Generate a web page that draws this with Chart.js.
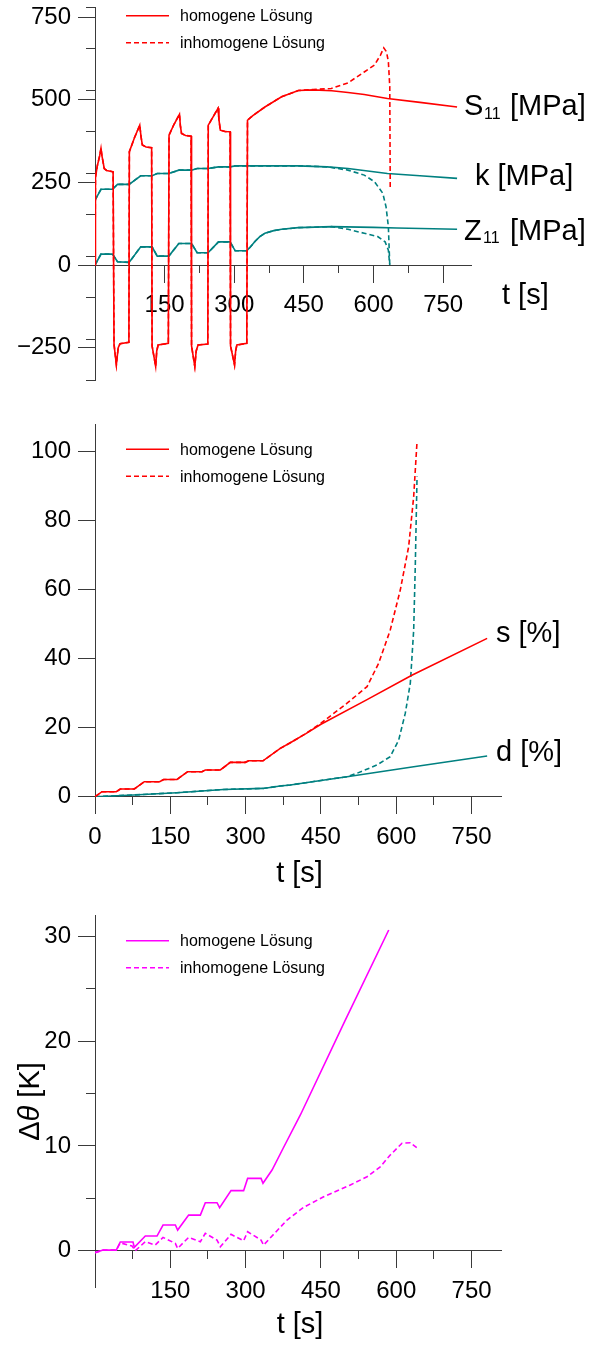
<!DOCTYPE html>
<html>
<head>
<meta charset="utf-8">
<script src="https://cdn.jsdelivr.net/npm/chart.js@4.4.1/dist/chart.umd.min.js"></script>
<style>
  body { margin: 0; background: #fff; }
  #wrap { position: relative; width: 592px; height: 1346px; }
  canvas { position: absolute; left: 0; }
</style>
</head>
<body>
<div id="wrap">
  <canvas id="stress" width="592" height="400" style="top:0"></canvas>
  <canvas id="strain" width="592" height="500" style="top:400px"></canvas>
  <canvas id="temp" width="592" height="446" style="top:900px"></canvas>
</div>
<script>
// ---- stresses [MPa] over time [s] ----
// cyclic part, identical for both solutions
const s11CycT = [0, 1, 5, 10, 12.9, 15, 19.9, 25, 39, 41, 46, 50, 54, 73, 74, 85, 96.4, 99, 102, 110,
  122, 123, 130.7, 133, 136, 158, 159.5, 170, 182, 184, 186.4, 195, 207, 208, 215, 218, 222, 243, 244, 255,
  265, 267, 270, 280, 291, 292, 300.6, 303, 305.6, 327, 328.5, 340, 366, 402, 438];
const s11CycV = [0, 265, 300, 330, 353, 330, 292, 286, 282, -240, -302, -250, -238, -234, 343, 385, 423, 390, 363, 357,
  355, -245, -307, -260, -242, -237, 393, 425, 456, 420, 398, 392, 390, -245, -307, -260, -242, -239, 423, 450,
  474, 440, 408, 404, 403, -245, -302, -260, -242, -237, 438, 452, 478, 509, 528];
const s11HomT = [470, 510, 545, 580, 630, 700, 780];
const s11HomV = [530, 527, 522, 516, 504, 492, 478];
const s11InhT = [470, 509, 545, 580, 602, 615, 622, 628, 632, 635, 636];
const s11InhV = [531, 534, 551, 584, 605, 635, 657, 645, 615, 540, 232];

const kCycT = [0, 12.9, 37.7, 48.5, 73.5, 98.5, 123, 134, 159, 180.6, 208, 220, 243.5, 266, 291, 302, 327, 438, 500];
const kCycV = [196, 229, 229, 244, 244, 270, 270, 277, 277, 287, 287, 292, 292, 297, 297, 300, 300, 300, 297];
const kHomT = [545, 630, 700, 780];
const kHomV = [292, 277, 270, 262];
const kInhT = [545, 580, 602, 620, 627, 632, 635];
const kInhV = [287, 272, 252, 217, 176, 116, 0];

const z11CycT = [0, 12.9, 37.7, 48.5, 73.5, 98.5, 123, 134, 159, 180.6, 208, 220, 243.5, 266, 291, 302, 327,
  335, 345, 355, 366, 385, 402, 438, 510];
const z11CycV = [0, 33, 33, 10, 8, 55, 55, 27, 27, 65, 65, 37, 37, 70, 70, 43, 43,
  55, 72, 86, 96, 104, 108, 113, 116];
const z11HomT = [600, 650, 780];
const z11HomV = [114, 112, 108];
const z11InhT = [545, 580, 609, 625, 632, 635];
const z11InhV = [108, 96, 86, 70, 45, 0];

// ---- strains [%] ----
const sCycT = [0, 13.9, 42.4, 50.4, 78.3, 98.2, 128.7, 136.7, 163.3, 184.5, 213.1, 219.7, 249.6, 269.5, 299.4,
  306, 334.6, 369, 389, 420];
const sCycV = [0, 1.45, 1.45, 2.23, 2.23, 4.35, 4.35, 5.0, 5.0, 7.25, 7.25, 7.74, 7.74, 9.96, 9.96,
  10.4, 10.4, 14.0, 15.65, 18.3];
const sHomT = [450, 540, 631, 781];
const sHomV = [21, 28, 35.2, 45.9];
const sInhT = [450, 502, 541.8, 565, 588, 608, 624.7, 634.7, 641.4];
const sInhV = [21.3, 27.1, 31.9, 38.7, 48.3, 59.9, 72.5, 87, 103];

const dCycT = [0, 76.9, 163, 256, 334.6, 369, 389, 450, 502];
const dCycV = [0, 0.5, 1.16, 2.1, 2.4, 3.1, 3.4, 4.7, 5.8];
const dHomT = [634.7, 781];
const dHomV = [8.7, 11.8];
const dInhT = [522, 561.7, 588, 604.8, 618, 628, 634.7, 638, 641.4];
const dInhV = [6.8, 9.2, 11.6, 16.4, 24.2, 32.9, 48.3, 67.6, 92.8];

// ---- temperature rise [K] ----
const thHomT = [0, 15.9, 42.4, 50.4, 75.7, 78.3, 100.2, 123.5, 135.5, 160, 164.6, 186.5, 209.8, 219.7, 243,
  248.2, 270.9, 296, 304, 330.7, 334.6, 352.6, 375, 409, 496.6, 585];
const thHomV = [-0.19, 0.06, 0.06, 0.83, 0.83, 0.32, 1.4, 1.4, 2.45, 2.45, 1.97, 3.4, 3.4, 4.58, 4.58,
  4.1, 5.73, 5.73, 6.9, 6.9, 6.43, 7.7, 9.8, 12.95, 21.8, 30.6];
const thInhT = [0, 15.9, 42.4, 50.4, 73.7, 80.3, 100.2, 120, 135.5, 160, 164.6, 186.5, 209.8, 219.7, 243,
  249.6, 270.9, 296, 304, 330.7, 335.9, 382.5, 415.6, 455.4, 508.6, 541.8, 568, 588, 611.5, 628, 642.6];
const thInhV = [-0.19, 0.06, 0.06, 0.75, 0.45, 0.0, 0.86, 0.54, 1.27, 0.7, 0.22, 1.27, 0.86, 1.66, 1.02,
  0.38, 1.56, 0.95, 1.81, 1.02, 0.54, 2.93, 4.14, 5.15, 6.27, 7.06, 8.0, 9.13, 10.25, 10.3, 9.77];

const legendLabels = ['homogene L\u00f6sung', 'inhomogene L\u00f6sung'];

const RED = '#ff0000', TEAL = '#008080', MAGENTA = '#ff00ff', AXIS = '#3a3a3a';
const FONT = '"Liberation Sans", Arial, sans-serif';
Chart.defaults.font.family = FONT;

const pts = (t, v) => t.map((x, i) => ({ x, y: v[i] }));
const line = (data, color, dashed) => ({
  data, borderColor: color, borderWidth: 1.6, borderDash: dashed ? [5, 3] : [],
  pointRadius: 0, fill: false, tension: 0, xAxisID: 'x', yAxisID: 'y'
});
const zeroPad = s => { s.paddingTop = s.paddingBottom = s.paddingLeft = s.paddingRight = 0; };

function drawLegend(ctx, y0, color) {
  legendLabels.forEach((label, i) => {
    const y = y0 + i * 27;
    ctx.strokeStyle = color;
    ctx.lineWidth = 1.5;
    ctx.setLineDash(i ? [5, 3] : []);
    ctx.beginPath(); ctx.moveTo(126, y); ctx.lineTo(169, y); ctx.stroke();
    ctx.setLineDash([]);
    ctx.fillStyle = '#000';
    ctx.font = '16px ' + FONT;
    ctx.textBaseline = 'middle';
    ctx.fillText(label, 180, y + 1);
  });
}

// write a sequence of [text, x, y, size, style] pieces
function drawText(ctx, pieces) {
  ctx.fillStyle = '#000';
  ctx.textBaseline = 'alphabetic';
  pieces.forEach(([txt, x, y, size, style]) => {
    ctx.font = (style || '') + ' ' + size + 'px ' + FONT;
    ctx.fillText(txt, x, y);
  });
}

function makeChart(id, datasets, o) {
  const scales = {
    x: {
      type: 'linear', min: 0, max: 810, position: { y: 0 }, afterFit: zeroPad,
      border: { color: AXIS, width: 1 },
      grid: { drawOnChartArea: false, tickLength: 17, color: AXIS },
      ticks: {
        stepSize: 150, includeBounds: false, maxTicksLimit: 100, autoSkip: false, maxRotation: 0,
        padding: 9, color: '#000', font: { size: 24 },
        callback: v => (v === 0 && !o.zeroLabel) ? '' : v
      }
    },
    x2: {
      type: 'linear', axis: 'x', min: 0, max: 810, position: { y: 0 }, afterFit: zeroPad,
      border: { display: false },
      grid: { drawOnChartArea: false, tickLength: 8, color: AXIS },
      ticks: { display: false, stepSize: 75, includeBounds: false, maxTicksLimit: 100 }
    },
    y: {
      type: 'linear', position: 'left', min: o.yMin, max: o.yMax,
      afterFit: s => { s.width = 95; zeroPad(s); },
      border: { color: AXIS, width: 1 },
      grid: { drawOnChartArea: false, tickLength: 17, color: AXIS },
      ticks: {
        stepSize: o.yStep, includeBounds: false, maxTicksLimit: 100, autoSkip: false,
        padding: 7, color: '#000', font: { size: 24 },
        callback: v => v < 0 ? '\u2212' + (-v) : v
      }
    }
  };
  if (o.yMinor) {
    scales.y2 = {
      type: 'linear', axis: 'y', min: o.yMin, max: o.yMax, position: { x: 0 }, afterFit: zeroPad,
      border: { display: false },
      grid: { drawOnChartArea: false, tickLength: 9, color: AXIS },
      ticks: { display: false, stepSize: o.yMinor, includeBounds: false, maxTicksLimit: 100 }
    };
  }
  return new Chart(document.getElementById(id), {
    type: 'line',
    data: { datasets },
    options: {
      responsive: false, animation: false, events: [],
      layout: { padding: o.pad },
      plugins: { legend: { display: false }, tooltip: { enabled: false } },
      scales
    },
    plugins: [{ id: 'labels', afterDraw(chart) {
      const ctx = chart.ctx;
      ctx.save(); o.draw(ctx); ctx.restore();
    } }]
  });
}

// stresses
makeChart('stress', [
  line(pts(s11CycT.concat(s11HomT), s11CycV.concat(s11HomV)), RED, false),
  line(pts(s11CycT.concat(s11InhT), s11CycV.concat(s11InhV)), RED, true),
  line(pts(kCycT.concat(kHomT), kCycV.concat(kHomV)), TEAL, false),
  line(pts(kCycT.concat(kInhT), kCycV.concat(kInhV)), TEAL, true),
  line(pts(z11CycT.concat(z11HomT), z11CycV.concat(z11HomV)), TEAL, false),
  line(pts(z11CycT.concat(z11InhT), z11CycV.concat(z11InhV)), TEAL, true)
], {
  yMin: -350, yMax: 780, yStep: 250, yMinor: 125,
  pad: { left: 0, right: 121, top: 7.2, bottom: 19.3 },
  draw(ctx) {
    drawLegend(ctx, 15.7, RED);
    drawText(ctx, [
      ['S', 464, 115, 29], ['11', 484, 118.5, 16], ['[MPa]', 510, 115, 29],
      ['k [MPa]', 475, 185, 29],
      ['Z', 464, 239.5, 29], ['11', 483, 243, 16], ['[MPa]', 510, 239.5, 29],
      ['t [s]', 502, 303.5, 29]
    ]);
  }
});

// strains
makeChart('strain', [
  line(pts(sCycT.concat(sHomT), sCycV.concat(sHomV)), RED, false),
  line(pts(sCycT.concat(sInhT), sCycV.concat(sInhV)), RED, true),
  line(pts(dCycT.concat(dHomT), dCycV.concat(dHomV)), TEAL, false),
  line(pts(dCycT.concat(dInhT), dCycV.concat(dInhV)), TEAL, true)
], {
  yMin: 0, yMax: 108, yStep: 20, zeroLabel: true,
  pad: { left: 0, right: 90.3, top: 24.1, bottom: 103.3 },
  draw(ctx) {
    drawLegend(ctx, 49.3, RED);
    drawText(ctx, [['s [%]', 496, 241.7, 29], ['d [%]', 496, 360.7, 29]]);
    ctx.textAlign = 'center';
    drawText(ctx, [['t [s]', 299.5, 481.7, 29]]);
  }
});

// temperature rise
makeChart('temp', [
  line(pts(thHomT, thHomV), MAGENTA, false),
  line(pts(thInhT, thInhV), MAGENTA, true)
], {
  yMin: -3.5, yMax: 32, yStep: 10, yMinor: 5,
  pad: { left: 0, right: 90.3, top: 15.3, bottom: 58.6 },
  draw(ctx) {
    drawLegend(ctx, 40.7, MAGENTA);
    ctx.textAlign = 'center';
    drawText(ctx, [['t [s]', 300, 432.7, 29]]);
    // rotated axis title: Δθ [K]
    ctx.textAlign = 'left';
    ctx.translate(39, 201.5);
    ctx.rotate(-Math.PI / 2);
    ctx.font = '29px ' + FONT;
    const w1 = ctx.measureText('\u0394').width;
    ctx.font = 'italic 29px ' + FONT;
    const w2 = ctx.measureText('\u03b8').width;
    ctx.font = '29px ' + FONT;
    const w3 = ctx.measureText(' [K]').width;
    const x0 = -(w1 + w2 + w3) / 2;
    drawText(ctx, [['\u0394', x0, 0, 29], ['\u03b8', x0 + w1, 0, 29, 'italic'], [' [K]', x0 + w1 + w2, 0, 29]]);
  }
});
</script>
</body>
</html>
